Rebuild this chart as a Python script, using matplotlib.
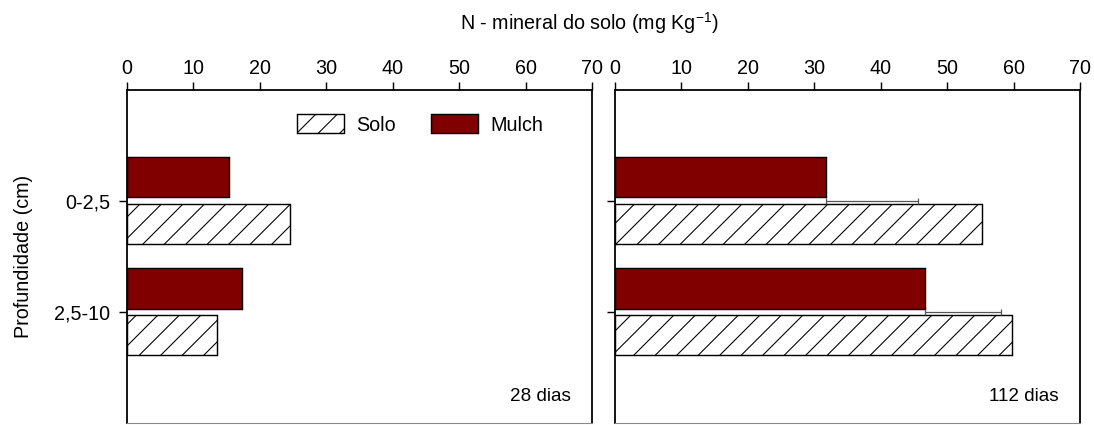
import matplotlib
matplotlib.use("Agg")
import matplotlib.pyplot as plt
import numpy as np

plt.rcParams['font.family'] = ['Liberation Sans', 'DejaVu Sans']
plt.rcParams['hatch.linewidth'] = 0.6

# N-mineral (mg/kg) by depth
profundidades = ['0-2,5', '2,5-10']
solo_28 = [24.5, 13.5]
mulch_28 = [15.3, 17.3]
solo_112 = [55.3, 59.8]
mulch_112 = [31.8, 46.6]
erro_mulch_112 = [13.8, 11.5]

DPI = 129
fig = plt.figure(figsize=(1094 / DPI, 425 / DPI), dpi=DPI)

ax1 = fig.add_axes([0.1161, 0.0047, 0.4250, 0.7847])
ax2 = fig.add_axes([0.5622, 0.0047, 0.4250, 0.7847])

y = np.arange(len(profundidades))
off = 0.21
h = 0.36
vinho = '#800000'
fs = 11


def painel(ax, solo, mulch, rotulo, err=None):
    ax.barh(y + off, solo, height=h, color='white', edgecolor='black',
            hatch='//', linewidth=0.8, label='Solo')
    ax.barh(y - off, mulch, height=h, color=vinho, edgecolor='black',
            linewidth=0.8, label='Mulch')
    if err is not None:
        ax.errorbar(mulch, y, xerr=[np.zeros(len(err)), err], fmt='none',
                    ecolor='#555555', elinewidth=0.7, capsize=1.6, capthick=0.7)
    ax.set_xlim(0, 70)
    ax.set_ylim(2, -1)
    ax.xaxis.tick_top()
    ax.set_xticks(np.arange(0, 71, 10))
    ax.set_yticks(y)
    ax.tick_params(direction='out', length=4.5, width=0.8, labelsize=fs,
                   pad=2)
    ax.tick_params(axis='y', pad=5)
    for s in ['top', 'left', 'right']:
        ax.spines[s].set_linewidth(1.0)
    ax.spines['bottom'].set_color('#888888')
    ax.spines['bottom'].set_linewidth(0.6)
    ax.text(0.955, 0.078, rotulo, transform=ax.transAxes, ha='right',
            va='center', fontsize=10.5)


painel(ax1, solo_28, mulch_28, '28 dias')
painel(ax2, solo_112, mulch_112, '112 dias', erro_mulch_112)

ax1.set_yticklabels(profundidades)
ax2.set_yticklabels([])
ax1.set_ylabel('Profundidade (cm)', fontsize=fs)
ax1.yaxis.set_label_coords(-0.202, 0.5)

ax1.legend(loc='center', bbox_to_anchor=(0.63, 0.895), ncol=2, frameon=False,
           fontsize=fs, handlelength=2.4, handleheight=1.1, handletextpad=0.6,
           columnspacing=1.8, borderpad=0)

fig.text(0.539, 0.946, 'N - mineral do solo (mg Kg$^{\\mathregular{-1}}$)',
         ha='center', va='center', fontsize=fs)

fig.savefig('out.png', dpi=DPI)
